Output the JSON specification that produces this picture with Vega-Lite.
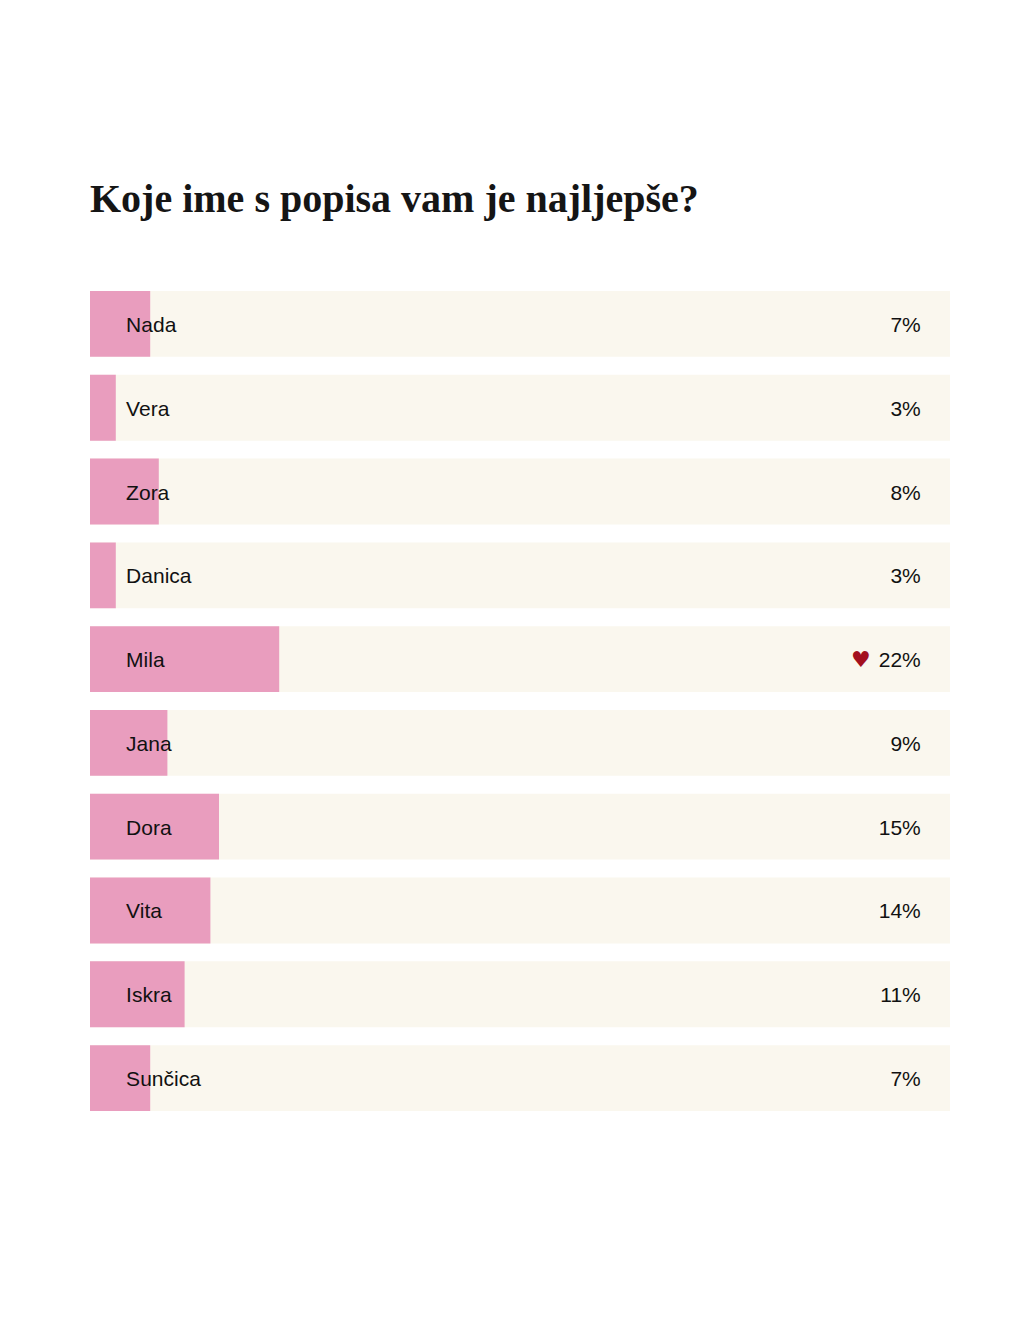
{
  "$schema": "https://vega.github.io/schema/vega-lite/v6.json",
  "autosize": "none",
  "width": 860,
  "height": 820,
  "padding": {"left": 90, "top": 291, "right": 74, "bottom": 206},
  "background": "white",
  "config": {"view": {"stroke": null}},
  "title": {
    "text": "Koje ime s popisa vam je najljepše?",
    "anchor": "start",
    "frame": "group",
    "font": "Liberation Serif",
    "fontSize": 40,
    "fontWeight": "bold",
    "color": "#151515",
    "offset": 71
  },
  "data": {
    "values": [
      {"name": "Nada", "share": 0.07, "heart": ""},
      {"name": "Vera", "share": 0.03, "heart": ""},
      {"name": "Zora", "share": 0.08, "heart": ""},
      {"name": "Danica", "share": 0.03, "heart": ""},
      {"name": "Mila", "share": 0.22, "heart": "♥"},
      {"name": "Jana", "share": 0.09, "heart": ""},
      {"name": "Dora", "share": 0.15, "heart": ""},
      {"name": "Vita", "share": 0.14, "heart": ""},
      {"name": "Iskra", "share": 0.11, "heart": ""},
      {"name": "Sunčica", "share": 0.07, "heart": ""}
    ]
  },
  "encoding": {
    "y": {
      "field": "name",
      "type": "nominal",
      "sort": null,
      "scale": {"paddingInner": 0.214, "paddingOuter": 0},
      "axis": null
    }
  },
  "layer": [
    {
      "mark": {"type": "bar", "color": "#faf7ee"},
      "encoding": {
        "x": {"datum": 0, "type": "quantitative", "scale": {"domain": [0, 1], "nice": false}, "axis": null},
        "x2": {"datum": 1}
      }
    },
    {
      "mark": {"type": "bar", "color": "#e99dbe"},
      "encoding": {
        "x": {"field": "share", "type": "quantitative"},
        "x2": {"datum": 0}
      }
    },
    {
      "mark": {"type": "text", "align": "left", "baseline": "middle", "dy": 2, "font": "Liberation Sans", "fontSize": 21, "color": "#111111"},
      "encoding": {
        "x": {"datum": 0.042, "type": "quantitative"},
        "text": {"field": "name"}
      }
    },
    {
      "mark": {"type": "text", "align": "right", "baseline": "middle", "dy": 2, "font": "Liberation Sans", "fontSize": 21, "color": "#111111"},
      "encoding": {
        "x": {"datum": 0.966, "type": "quantitative"},
        "text": {"field": "share", "type": "quantitative", "format": ".0%"}
      }
    },
    {
      "mark": {"type": "text", "align": "right", "baseline": "middle", "dy": 1, "font": "DejaVu Sans", "fontSize": 22, "dx": -50, "color": "#a3101f"},
      "encoding": {
        "x": {"datum": 0.966, "type": "quantitative"},
        "text": {"field": "heart"}
      }
    }
  ]
}
